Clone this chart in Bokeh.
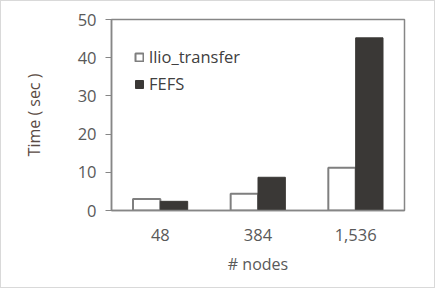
from bokeh.plotting import figure
from bokeh.models import FactorRange, Range1d, Legend, LegendItem, ColumnDataSource, FixedTicker
from bokeh.transform import dodge
from bokeh.embed import file_html
from bokeh.resources import INLINE

nodes = ["48", "384", "1,536"]
llio_transfer = [3.0, 4.4, 11.2]
fefs = [2.4, 8.7, 45.2]
series_names = ["llio_transfer", "FEFS"]
y_ticks = [0, 10, 20, 30, 40, 50]

FONT = "Open Sans"
src = ColumnDataSource(dict(nodes=nodes, llio=llio_transfer, fefs=fefs))

p = figure(width=435, height=288, x_range=FactorRange(factors=nodes), y_range=Range1d(0, 50),
           output_backend="svg", toolbar_location=None,
           min_border_left=110, min_border_right=32, min_border_top=18, min_border_bottom=79)
p.styles = {"border": "1px solid #d9d9d9", "box-sizing": "border-box"}

r1 = p.vbar(x=dodge("nodes", -0.14, range=p.x_range), top="llio", width=0.28, source=src,
            fill_color="white", line_color="#7f7f7f", line_width=2)
r2 = p.vbar(x=dodge("nodes", 0.14, range=p.x_range), top="fefs", width=0.28, source=src,
            fill_color="#3a3836", line_color="#3a3836", line_width=1)

p.xgrid.visible = False
p.ygrid.visible = False
p.outline_line_color = "#868686"
p.outline_line_width = 1.5

p.yaxis.ticker = FixedTicker(ticks=y_ticks)
p.yaxis.minor_tick_line_color = None
p.yaxis.major_tick_out = 6
p.yaxis.major_tick_in = 0
p.yaxis.major_label_standoff = 9
p.yaxis.axis_label = "Time ( sec )"
p.yaxis.axis_label_standoff = 30
p.yaxis.axis_label_text_color = "#594a43"

p.xaxis.major_tick_out = 0
p.xaxis.major_label_standoff = 18
p.xaxis.axis_label = "# nodes"
p.xaxis.axis_label_standoff = 9
p.xaxis.axis_label_text_color = "#595959"

for ax in (p.xaxis[0], p.yaxis[0]):
    ax.axis_line_color = "#868686"
    ax.axis_line_width = 1.5
    ax.major_tick_line_color = "#868686" if ax is p.yaxis[0] else None
    ax.major_label_text_font = FONT
    ax.major_label_text_font_size = "16.5px"
    ax.major_label_text_color = "#595959"
    ax.axis_label_text_font = FONT
    ax.axis_label_text_font_size = "16px"
    ax.axis_label_text_font_style = "normal"

legend = Legend(items=[LegendItem(label=series_names[0], renderers=[r1]),
                       LegendItem(label=series_names[1], renderers=[r2])],
                location=(23, 115), glyph_width=10, glyph_height=10, spacing=4,
                label_standoff=5, padding=0, margin=0, border_line_color=None,
                background_fill_alpha=0, label_text_font=FONT, label_text_font_size="16.5px",
                label_text_color="#404040", label_height=18)
p.add_layout(legend)

open("out.html", "w").write(file_html(p, INLINE))
